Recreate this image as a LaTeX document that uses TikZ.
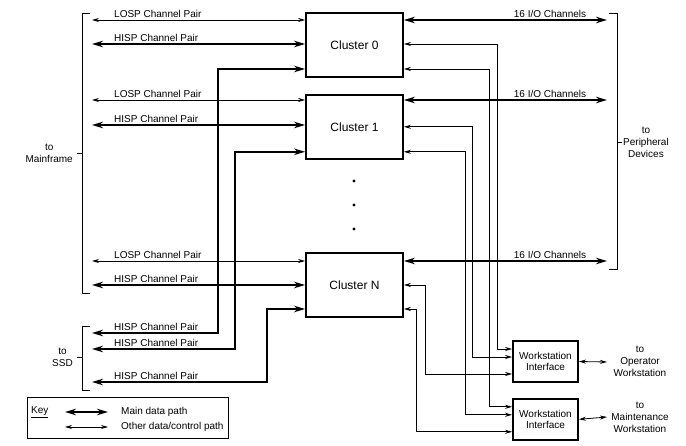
\documentclass[tikz,border=0pt]{standalone}
\usepackage{fontspec}
\setmainfont{Liberation Sans}
\usetikzlibrary{arrows.meta, positioning, calc}

\begin{document}
\begin{tikzpicture}[
    x=1pt, y=-1pt,
    cluster/.style={rectangle, draw, line width=1.8pt, minimum width=97pt,
                    minimum height=64pt, font=\fontsize{12}{14}\selectfont},
    wsbox/.style={rectangle, draw, line width=1.8pt, minimum width=65pt,
                  minimum height=41pt, align=center, font=\fontsize{10}{11}\selectfont},
    mainpath/.style={{Stealth[length=11pt,width=6.5pt]}-{Stealth[length=11pt,width=6.5pt]}, line width=2pt},
    otherpath/.style={{Stealth[length=7pt,width=4pt]}-{Stealth[length=7pt,width=4pt]}, line width=0.8pt},
    lbl/.style={font=\fontsize{10}{11}\selectfont, inner sep=1pt},
    side/.style={font=\fontsize{10}{12}\selectfont, align=center, inner sep=1pt},
    bracket/.style={line width=0.9pt}
]
\useasboundingbox (0,0) rectangle (686,446);

% Clusters
\node[cluster] (c0) at (354.5,45) {Cluster 0};
\node[cluster, below=16pt of c0] (c1) {Cluster 1};
\node[cluster] (cN) at (354.5,285) {Cluster N};

\fill (354,181) circle (1.6pt);
\fill (354,205) circle (1.6pt);
\fill (354,229) circle (1.6pt);

% Workstation interfaces
\node[wsbox] (ws1) at (545.5,361.5) {Workstation\\Interface};
\node[wsbox, below=15pt of ws1] (ws2) {Workstation\\Interface};

% Mainframe side
\coordinate (mftop) at (82,13);
\coordinate (mfbot) at (82,293);
\coordinate (mftick) at (82,153);
\draw[bracket] ([xshift=8pt]mftop) -- (mftop) -- (mfbot) -- ([xshift=8pt]mfbot);
\draw[bracket] (mftick) -- ++(-5,0);
\node[side, left=8pt of mftick] (mf) {to\\Mainframe};

\coordinate (l0) at (92,20);
\coordinate (h0) at (92,44);
\coordinate (l1) at (92,100);
\coordinate (h1) at (92,125);
\coordinate (lN) at (92,261);
\coordinate (hN) at (92,285);

\draw[otherpath] (l0) -- (l0 -| c0.west);
\draw[mainpath] (h0) -- (h0 -| c0.west);
\draw[otherpath] (l1) -- (l1 -| c1.west);
\draw[mainpath] (h1) -- (h1 -| c1.west);
\draw[otherpath] (lN) -- (lN -| cN.west);
\draw[mainpath] (hN) -- (hN -| cN.west);

\node[lbl, anchor=south west] at ([xshift=21pt,yshift=1pt]l0) {LOSP Channel Pair};
\node[lbl, anchor=south west] at ([xshift=21pt,yshift=1pt]h0) {HISP Channel Pair};
\node[lbl, anchor=south west] at ([xshift=21pt,yshift=1pt]l1) {LOSP Channel Pair};
\node[lbl, anchor=south west] at ([xshift=21pt,yshift=1pt]h1) {HISP Channel Pair};
\node[lbl, anchor=south west] at ([xshift=21pt,yshift=1pt]lN) {LOSP Channel Pair};
\node[lbl, anchor=south west] at ([xshift=21pt,yshift=1pt]hN) {HISP Channel Pair};

% SSD side
\coordinate (ssdtop) at (82,326);
\coordinate (ssdbot) at (82,390);
\coordinate (ssdtick) at (82,357);
\draw[bracket] ([xshift=8pt]ssdtop) -- (ssdtop) -- (ssdbot) -- ([xshift=8pt]ssdbot);
\draw[bracket] (ssdtick) -- ++(-5,0);
\node[side, left=8pt of ssdtick] (ssd) {to\\SSD};

\coordinate (s0) at (92,333);
\coordinate (s1) at (92,349);
\coordinate (sN) at (92,382);

\draw[mainpath] ($(c0.west)+(0,24)$) -| (218,333) -- (s0);
\draw[mainpath] ($(c1.west)+(0,25)$) -| (235,349) -- (s1);
\draw[mainpath] ($(cN.west)+(0,24)$) -| (267,382) -- (sN);

\node[lbl, anchor=south west] at ([xshift=21pt,yshift=1pt]s0) {HISP Channel Pair};
\node[lbl, anchor=south west] at ([xshift=21pt,yshift=1pt]s1) {HISP Channel Pair};
\node[lbl, anchor=south west] at ([xshift=21pt,yshift=1pt]sN) {HISP Channel Pair};

% Peripheral side
\coordinate (pftop) at (617,13);
\coordinate (pfbot) at (617,269);
\coordinate (pftick) at (617,142);
\draw[bracket] ([xshift=-8pt]pftop) -- (pftop) -- (pfbot) -- ([xshift=-8pt]pfbot);
\draw[bracket] (pftick) -- ++(5,0);
\node[side, right=5pt of pftick] (pf) {to\\Peripheral\\Devices};

\coordinate (io0) at (607,20);
\coordinate (io1) at (607,100);
\coordinate (ioN) at (607,261);
\draw[mainpath] (io0 -| c0.east) -- (io0);
\draw[mainpath] (io1 -| c1.east) -- (io1);
\draw[mainpath] (ioN -| cN.east) -- (ioN);
\node[lbl, anchor=south] at ([xshift=-57pt,yshift=1pt]io0) {16 I/O Channels};
\node[lbl, anchor=south] at ([xshift=-57pt,yshift=1pt]io1) {16 I/O Channels};
\node[lbl, anchor=south] at ([xshift=-57pt,yshift=1pt]ioN) {16 I/O Channels};

% Cluster to workstation links
\coordinate (w1a) at ($(ws1.west)+(0,-12.5)$);
\coordinate (w1b) at ($(ws1.west)+(0,-4.5)$);
\coordinate (w1c) at ($(ws1.west)+(0,12.5)$);
\coordinate (w2a) at ($(ws2.west)+(0,-12.5)$);
\coordinate (w2b) at ($(ws2.west)+(0,-4.5)$);
\coordinate (w2c) at ($(ws2.west)+(0,12.5)$);

\draw[otherpath] ($(c0.east)+(0,-1)$) -| ([xshift=-15pt]w1a) -- (w1a);
\draw[otherpath] ($(c0.east)+(0,24)$) -| ([xshift=-23pt]w2a) -- (w2a);
\draw[otherpath] (c1.east) -| ([xshift=-40pt]w1b) -- (w1b);
\draw[otherpath] ($(c1.east)+(0,25)$) -| ([xshift=-47pt]w2b) -- (w2b);
\draw[otherpath] (cN.east) -| ([xshift=-87pt]w1c) -- (w1c);
\draw[otherpath] ($(cN.east)+(0,24)$) -| ([xshift=-96pt]w2c) -- (w2c);

% Workstations
\coordinate (op) at (607,362);
\coordinate (mt) at (607,417);
\draw[otherpath] (ws1.east) -- (op);
\draw[otherpath] (ws2.east) -- (mt);
\node[side] (opws) at (640,361) {to\\Operator\\Workstation};
\node[side] (mtws) at (640,417) {to\\Maintenance\\Workstation};

% Key
\node[draw, line width=0.9pt, minimum width=201pt, minimum height=41pt] (key) at (127.5,417.5) {};
\node[lbl, anchor=west] (keylbl) at (30,412) {\underline{Key}};
\coordinate (ka) at (65,412);
\coordinate (kb) at (108,412);
\coordinate (kc) at (65,427);
\coordinate (kd) at (108,427);
\draw[mainpath] (ka) -- (kb);
\draw[otherpath] (kc) -- (kd);
\node[lbl, anchor=west] at (120,412) {Main data path};
\node[lbl, anchor=west] at (120,427) {Other data/control path};

\end{tikzpicture}
\end{document}
